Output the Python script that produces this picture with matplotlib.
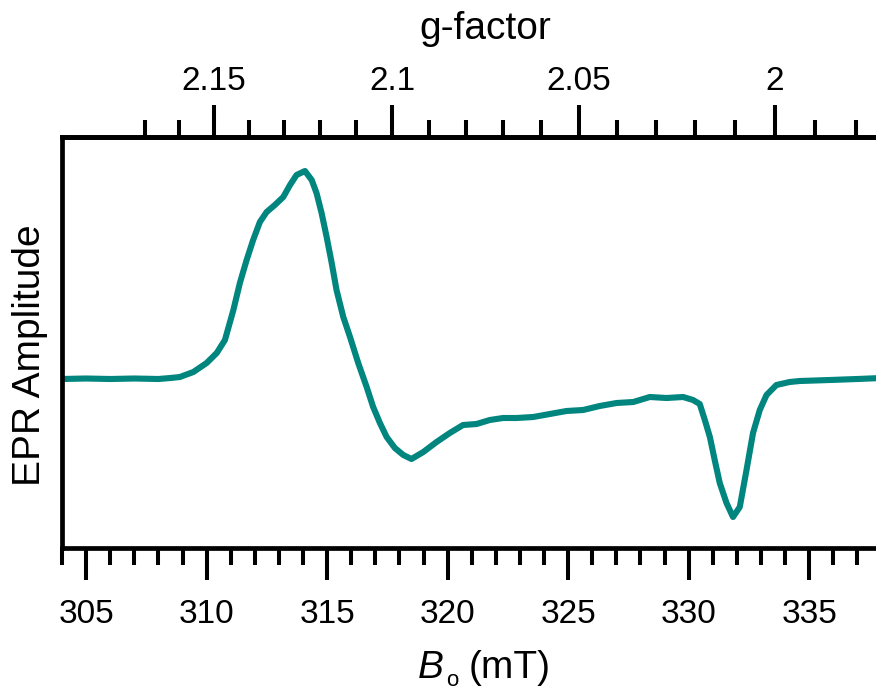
import matplotlib
matplotlib.use('Agg')
import matplotlib.pyplot as plt
from matplotlib.ticker import FixedLocator, FuncFormatter, MultipleLocator

# ---- data ----
field_mT = [304.0, 305.0, 306.0, 307.0, 308.0, 308.5, 308.89, 309.45, 310.00, 310.42,
            310.76, 311.11, 311.38, 311.66, 311.93, 312.21, 312.49, 312.83, 313.18,
            313.46, 313.73, 314.08, 314.36, 314.56, 314.77, 314.98, 315.19, 315.39,
            315.67, 315.95, 316.29, 316.64, 316.91, 317.19, 317.47, 317.81, 318.16,
            318.50, 318.99, 319.54, 320.09, 320.64, 321.20, 321.75, 322.30, 322.86,
            323.55, 324.24, 324.93, 325.62, 326.31, 327.01, 327.70, 328.39, 329.08,
            329.77, 330.18, 330.46, 330.67, 330.88, 331.08, 331.29, 331.57, 331.84,
            332.12, 332.40, 332.67, 332.95, 333.23, 333.64, 334.19, 334.61, 335.85,
            337.0, 338.0, 339.1]
amplitude = [0, 0.5, 0, 0.5, 0, 1, 2, 7, 16, 26,
             39, 69, 96, 119, 139, 157, 167, 174, 182,
             194, 204, 208, 199, 186, 166, 142, 116, 89,
             62, 42, 16, -8, -28, -44, -58, -69, -76,
             -80, -73, -63, -54, -46, -45, -41, -39, -39,
             -38, -35, -32, -31, -27, -24, -23, -18, -19,
             -18, -21, -25, -41, -58, -81, -104, -124, -138,
             -128, -91, -54, -31, -16, -6, -3, -2, -1,
             0, 1, 1]

G_TIMES_B = 667.15              # g * B(mT) at the spectrometer frequency
g_major = [2.15, 2.10, 2.05, 2.00]
g_minor = [2.17, 2.16, 2.14, 2.13, 2.12, 2.11, 2.09, 2.08, 2.07, 2.06,
           2.04, 2.03, 2.02, 2.01, 1.99, 1.98, 1.97]
b_major = [305, 310, 315, 320, 325, 330, 335]

# ---- style ----
plt.rcParams['font.family'] = ['Liberation Sans', 'DejaVu Sans']

W, H = 876, 694
fig = plt.figure(figsize=(W / 100, H / 100), dpi=100)
left_px, right_px, top_px, bot_px = 62, 908, 137, 548
ax = fig.add_axes([left_px / W, 1 - bot_px / H, (right_px - left_px) / W, (bot_px - top_px) / H])

teal = '#00857f'
ax.plot(field_mT, amplitude, color=teal, lw=4.4, solid_joinstyle='round', solid_capstyle='round')
ax.set_xlim(304, 339.1)
ax.set_ylim(-169, 242)

spine_w = 3.4
for s in ['left', 'bottom', 'top']:
    ax.spines[s].set_linewidth(spine_w)
ax.spines['right'].set_visible(False)
ax.set_yticks([])

ax.xaxis.set_major_locator(FixedLocator(b_major))
ax.xaxis.set_minor_locator(MultipleLocator(1))
ax.tick_params(axis='x', which='major', direction='out', length=23, width=2.9,
               labelsize=24, pad=14, top=False)
ax.tick_params(axis='x', which='minor', direction='out', length=12, width=2.9, top=False)

secax = ax.secondary_xaxis('top', functions=(lambda b: G_TIMES_B / b, lambda g: G_TIMES_B / g))
secax.xaxis.set_major_locator(FixedLocator(g_major))
secax.xaxis.set_minor_locator(FixedLocator(g_minor))
secax.xaxis.set_major_formatter(FuncFormatter(lambda v, p: f'{v:g}'))
secax.spines['top'].set_linewidth(spine_w)
secax.tick_params(axis='x', which='major', direction='out', length=23, width=2.9,
                  labelsize=24, pad=6)
secax.tick_params(axis='x', which='minor', direction='out', length=12, width=2.9)
secax.set_xlabel('g-factor', fontsize=28, labelpad=19)

# bottom axis label: italic B with a low subscript o, then (mT)
fig.text(418 / W, 1 - 678 / H, 'B', fontsize=28, style='italic', ha='left', va='baseline')
fig.text(446 / W, 1 - 686 / H, 'o', fontsize=16, ha='left', va='baseline')
fig.text(469 / W, 1 - 678 / H, '(mT)', fontsize=28, ha='left', va='baseline')

fig.text(30 / W, 1 - 355 / H, 'EPR Amplitude', fontsize=28, rotation=90, ha='center', va='center')

fig.savefig('out.png', dpi=100)
